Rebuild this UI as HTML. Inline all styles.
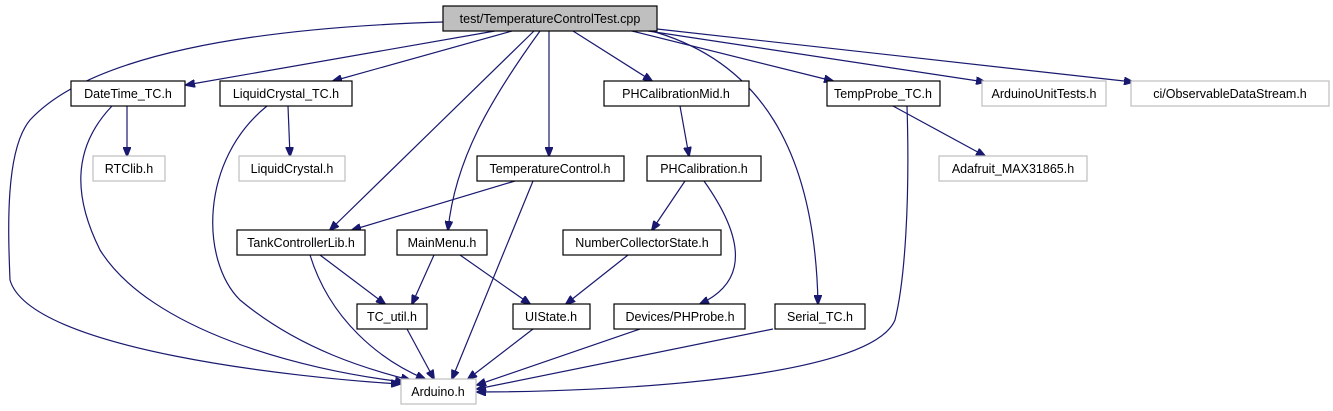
<!DOCTYPE html>
<html><head><meta charset="utf-8"><style>
html,body{margin:0;padding:0;background:#fff;}
svg{display:block;}
text{font-family:"Liberation Sans",sans-serif;font-size:12.5px;fill:#000;text-anchor:middle;}
.e{fill:none;stroke:#191970;stroke-width:1.2;marker-end:url(#a);}
.n{fill:#fff;stroke:#000;stroke-width:1.2;}
.g{fill:#fff;stroke:#bfbfbf;stroke-width:1.2;}
</style></head><body>
<svg width="1333" height="411" viewBox="0 0 1333 411">
<defs><marker id="a" markerWidth="10" markerHeight="8" refX="9" refY="4" orient="auto" markerUnits="userSpaceOnUse"><path d="M0,0 L10,4 L0,8 z" fill="#191970" stroke="#191970"/></marker></defs>
<!-- edges -->
<path class="e" d="M443,22 C250,28 90,55 30,120 C5,150 8,230 10,280 C30,350 300,378 400,384"/>
<path class="e" d="M495,31 L186,85"/>
<path class="e" d="M512,31 L333,81"/>
<path class="e" d="M534,31 L330,230"/>
<path class="e" d="M540,31 C490,100 455,160 448,230"/>
<path class="e" d="M549,31 L549,156"/>
<path class="e" d="M573,31 L652,81"/>
<path class="e" d="M648,30 C760,60 815,150 818,304"/>
<path class="e" d="M632,31 L833,81"/>
<path class="e" d="M648,31 L985,82"/>
<path class="e" d="M657,29 L1133,82"/>
<path class="e" d="M127,106 L127,156"/>
<path class="e" d="M112,106 C70,150 75,200 100,250 C150,330 300,370 404,382"/>
<path class="e" d="M288,106 L290,156"/>
<path class="e" d="M267,106 C200,160 200,260 240,300 C300,350 370,370 410,380"/>
<path class="e" d="M680,106 L689,156"/>
<path class="e" d="M685,181 L652,230"/>
<path class="e" d="M704,181 C760,260 730,290 700,304"/>
<path class="e" d="M893,106 L985,156"/>
<path class="e" d="M907,106 C910,200 905,280 895,320 C870,380 600,392 477,392"/>
<path class="e" d="M515,181 L352,230"/>
<path class="e" d="M533,181 L452,379"/>
<path class="e" d="M320,255 L385,304"/>
<path class="e" d="M310,255 C330,320 380,360 425,379"/>
<path class="e" d="M434,255 L412,304"/>
<path class="e" d="M460,255 L530,304"/>
<path class="e" d="M628,255 L566,304"/>
<path class="e" d="M407,329 L434,379"/>
<path class="e" d="M533,329 L468,379"/>
<path class="e" d="M640,329 L477,385"/>
<path class="e" d="M773,329 L477,389"/>
<!-- nodes -->
<rect x="443" y="6" width="214" height="25" fill="#bfbfbf" stroke="#000" stroke-width="1.2"/><text x="550" y="23">test/TemperatureControlTest.cpp</text>
<rect class="n" x="71" y="81" width="114" height="25"/><text x="128" y="98">DateTime_TC.h</text>
<rect class="n" x="220" y="81" width="132" height="25"/><text x="286" y="98">LiquidCrystal_TC.h</text>
<rect class="n" x="604" y="81" width="145" height="25"/><text x="676" y="98">PHCalibrationMid.h</text>
<rect class="n" x="827" y="81" width="113" height="25"/><text x="883" y="98">TempProbe_TC.h</text>
<rect class="g" x="982" y="81" width="124" height="25"/><text x="1044" y="98">ArduinoUnitTests.h</text>
<rect class="g" x="1131" y="81" width="198" height="25"/><text x="1230" y="98">ci/ObservableDataStream.h</text>
<rect class="g" x="93" y="156" width="72" height="25"/><text x="129" y="173">RTClib.h</text>
<rect class="g" x="239" y="156" width="106" height="25"/><text x="292" y="173">LiquidCrystal.h</text>
<rect class="n" x="477" y="156" width="147" height="25"/><text x="550" y="173">TemperatureControl.h</text>
<rect class="n" x="647" y="156" width="114" height="25"/><text x="704" y="173">PHCalibration.h</text>
<rect class="g" x="939" y="156" width="148" height="25"/><text x="1013" y="173">Adafruit_MAX31865.h</text>
<rect class="n" x="237" y="230" width="128" height="25"/><text x="301" y="247">TankControllerLib.h</text>
<rect class="n" x="397" y="230" width="90" height="25"/><text x="442" y="247">MainMenu.h</text>
<rect class="n" x="563" y="230" width="158" height="25"/><text x="642" y="247">NumberCollectorState.h</text>
<rect class="n" x="357" y="304" width="70" height="25"/><text x="392" y="321">TC_util.h</text>
<rect class="n" x="513" y="304" width="77" height="25"/><text x="551" y="321">UIState.h</text>
<rect class="n" x="614" y="304" width="131" height="25"/><text x="680" y="321">Devices/PHProbe.h</text>
<rect class="n" x="775" y="304" width="90" height="25"/><text x="820" y="321">Serial_TC.h</text>
<rect class="g" x="401" y="379" width="75" height="25"/><text x="438" y="396">Arduino.h</text>
</svg>
</body></html>
